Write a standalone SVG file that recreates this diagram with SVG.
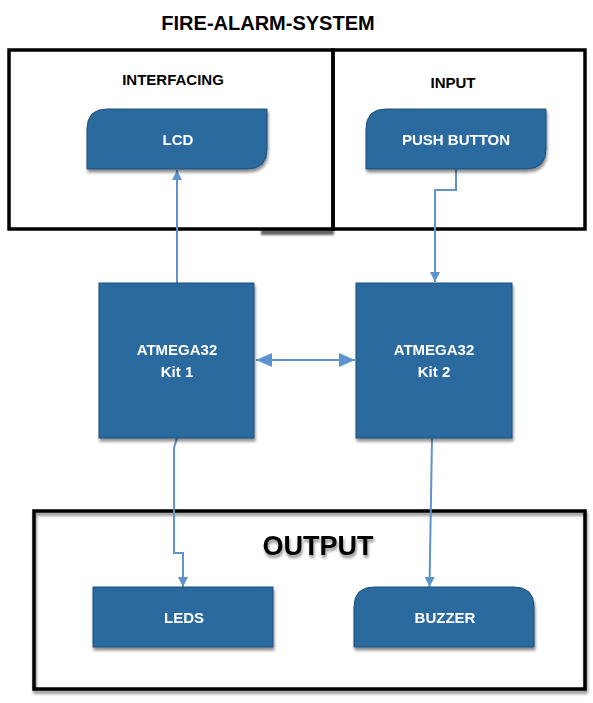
<svg xmlns="http://www.w3.org/2000/svg" width="593" height="703" viewBox="0 0 593 703">
<defs>
<style>
.frame{fill:none;stroke:#000;stroke-width:3.5}
.node{fill:#2a6a9f;stroke:#1f4f78;stroke-width:1}
.lbl{font-family:"Liberation Sans",Arial,sans-serif;font-weight:bold;text-anchor:middle}
.w{fill:#fff;font-size:15px}
.k{fill:#000}
.conn{fill:none;stroke:#5e93cb;stroke-width:2}
</style>
<filter id="sh" x="-10%" y="-10%" width="130%" height="140%">
<feGaussianBlur in="SourceAlpha" stdDeviation="1.5"/>
<feOffset dx="1" dy="3" result="b"/>
<feComponentTransfer><feFuncA type="linear" slope="0.45"/></feComponentTransfer>
<feMerge><feMergeNode/><feMergeNode in="SourceGraphic"/></feMerge>
</filter>
<filter id="blur" x="-10%" y="-50%" width="120%" height="200%">
<feGaussianBlur stdDeviation="1.2"/>
</filter>
<marker id="ah" viewBox="0 0 10 10" refX="10" refY="5" markerWidth="10" markerHeight="10" markerUnits="userSpaceOnUse" orient="auto-start-reverse">
<path d="M0,0 L10,5 L0,10 z" fill="#5e93cb"/>
</marker>
<marker id="ah2" viewBox="0 0 16 14" refX="16" refY="7" markerWidth="17" markerHeight="14" markerUnits="userSpaceOnUse" orient="auto-start-reverse">
<path d="M0,0 L16,7 L0,14 z" fill="#5e93cb"/>
</marker>
</defs>
<rect width="593" height="703" fill="#fff"/>
<text class="lbl k" x="268" y="30" font-size="20">FIRE-ALARM-SYSTEM</text>

<g id="frame-interfacing">
<rect x="261" y="229" width="73" height="6" fill="#333" opacity="0.75" filter="url(#blur)"/>
<rect class="frame" x="9" y="50" width="324" height="179"/>
<text class="lbl k" x="173" y="85" font-size="15">INTERFACING</text>
</g>
<g id="frame-input">
<rect class="frame" x="333" y="50" width="252" height="179"/>
<text class="lbl k" x="453" y="88" font-size="15">INPUT</text>
</g>
<g id="frame-output" filter="url(#sh)">
<rect class="frame" x="34" y="511" width="551" height="178"/>
<text class="lbl k" x="318" y="555" font-size="27">OUTPUT</text>
</g>

<g id="connectors">
<path class="conn" d="M177,283 L177,170" marker-end="url(#ah)"/>
<path class="conn" d="M456,169 L456,190 L435,190 L435,282" marker-end="url(#ah)"/>
<path class="conn" d="M256,360 L355,360" marker-start="url(#ah2)" marker-end="url(#ah2)"/>
<path class="conn" d="M177,438 L174,448 L174,553 L183,553 L183,587" marker-end="url(#ah)"/>
<path class="conn" d="M432,438 L429.5,587" marker-end="url(#ah)"/>
</g>

<g id="node-lcd" filter="url(#sh)">
<path class="node" d="M107,109 L267,109 L267,149 Q267,169 247,169 L87,169 L87,129 Q87,109 107,109 Z"/>
<text class="lbl w" x="178" y="145">LCD</text>
</g>
<g id="node-push-button" filter="url(#sh)">
<path class="node" d="M386,109 L546,109 L546,149 Q546,169 526,169 L366,169 L366,129 Q366,109 386,109 Z"/>
<text class="lbl w" x="456" y="145">PUSH BUTTON</text>
</g>
<g id="node-kit1" filter="url(#sh)">
<rect class="node" x="99" y="283" width="155" height="155"/>
<text class="lbl w" x="177" y="355" font-size="16">ATMEGA32</text>
<text class="lbl w" x="177" y="377" font-size="16">Kit 1</text>
</g>
<g id="node-kit2" filter="url(#sh)">
<rect class="node" x="356" y="283" width="156" height="155"/>
<text class="lbl w" x="434" y="355" font-size="16">ATMEGA32</text>
<text class="lbl w" x="434" y="377" font-size="16">Kit 2</text>
</g>
<g id="node-leds" filter="url(#sh)">
<rect class="node" x="93" y="587" width="180" height="60"/>
<text class="lbl w" x="184" y="623">LEDS</text>
</g>
<g id="node-buzzer" filter="url(#sh)">
<path class="node" d="M374,587 L514,587 Q534,587 534,607 L534,647 L354,647 L354,607 Q354,587 374,587 Z"/>
<text class="lbl w" x="445" y="623">BUZZER</text>
</g>
</svg>
